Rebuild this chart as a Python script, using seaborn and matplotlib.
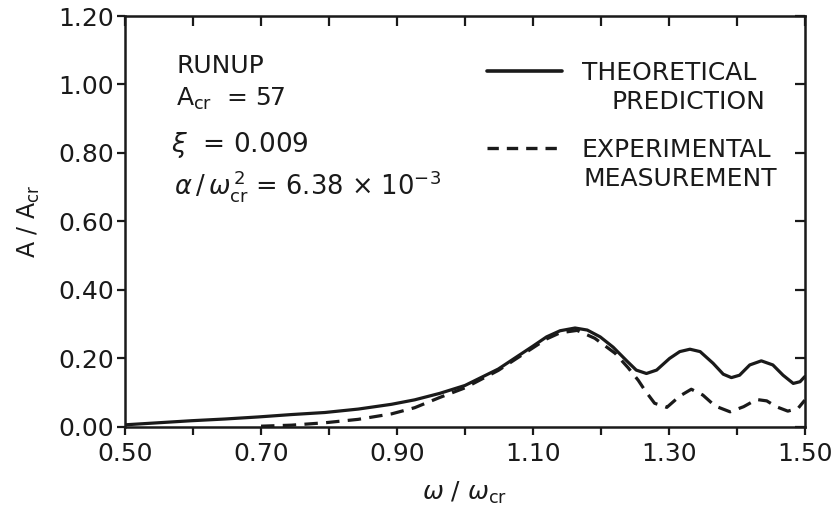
import numpy as np
import pandas as pd
import matplotlib
matplotlib.use("Agg")
import matplotlib.pyplot as plt
import seaborn as sns
from matplotlib.lines import Line2D

# ---- data ----
theo_x = [0.500, 0.549, 0.598, 0.647, 0.696, 0.745, 0.794, 0.843, 0.892, 0.926, 0.963,
          1.000, 1.049, 1.100, 1.120, 1.140, 1.162, 1.180, 1.199, 1.218, 1.238, 1.252,
          1.267, 1.282, 1.301, 1.316, 1.331, 1.346, 1.365, 1.380, 1.392, 1.404, 1.419,
          1.436, 1.453, 1.468, 1.483, 1.493, 1.500]
theo_y = [0.005, 0.011, 0.017, 0.022, 0.028, 0.035, 0.041, 0.051, 0.065, 0.078, 0.097,
          0.120, 0.168, 0.235, 0.262, 0.280, 0.288, 0.282, 0.262, 0.232, 0.192, 0.165,
          0.155, 0.165, 0.199, 0.219, 0.226, 0.219, 0.185, 0.153, 0.143, 0.150, 0.180,
          0.192, 0.180, 0.150, 0.126, 0.131, 0.146]
exp_x = [0.700, 0.745, 0.794, 0.843, 0.892, 0.926, 0.963, 1.000, 1.049, 1.100, 1.120,
         1.140, 1.165, 1.191, 1.221, 1.240, 1.255, 1.265, 1.279, 1.297, 1.316, 1.333,
         1.350, 1.368, 1.390, 1.410, 1.429, 1.444, 1.458, 1.475, 1.490, 1.500]
exp_y = [0.001, 0.004, 0.011, 0.021, 0.037, 0.055, 0.085, 0.113, 0.164, 0.230, 0.256,
         0.274, 0.281, 0.258, 0.214, 0.172, 0.135, 0.105, 0.068, 0.056, 0.089, 0.109,
         0.092, 0.060, 0.043, 0.058, 0.079, 0.075, 0.058, 0.045, 0.053, 0.077]
series_names = ["THEORETICAL", "EXPERIMENTAL"]
second_lines = ["PREDICTION", "MEASUREMENT"]
x_ticks = [0.50, 0.70, 0.90, 1.10, 1.30, 1.50]
y_ticks = [0.00, 0.20, 0.40, 0.60, 0.80, 1.00, 1.20]

df = pd.concat([
    pd.DataFrame({"x": theo_x, "y": theo_y, "series": series_names[0]}),
    pd.DataFrame({"x": exp_x, "y": exp_y, "series": series_names[1]}),
])

INK = "#1a1a1a"
DASH = (4.2, 2.6)

sns.set_style("ticks")
plt.rcParams["font.family"] = ["DejaVu Sans"]
plt.rcParams["mathtext.fontset"] = "dejavusans"

fig = plt.figure(figsize=(8.34, 5.17), dpi=100)
ax = fig.add_axes([0.150, 0.175, 0.815, 0.794])

sns.lineplot(data=df, x="x", y="y", hue="series", style="series",
             palette={series_names[0]: INK, series_names[1]: INK},
             dashes={series_names[0]: "", series_names[1]: DASH},
             linewidth=2.3, ax=ax, legend=False, sort=False)
for ln in ax.lines:
    ln.set_solid_joinstyle("round")
    ln.set_dash_joinstyle("round")

ax.set_xlim(0.5, 1.5)
ax.set_ylim(0.0, 1.2)
ax.set_xticks(x_ticks)
ax.set_xticklabels([f"{v:.2f}" for v in x_ticks])
ax.set_xticks(np.arange(0.6, 1.5, 0.2), minor=True)
ax.set_yticks(y_ticks)
ax.set_yticklabels([f"{v:.2f}" for v in y_ticks])
for s in ax.spines.values():
    s.set_linewidth(1.8)
    s.set_color(INK)
ax.tick_params(axis="both", which="both", direction="out", length=6, width=1.6,
               labelsize=18, colors=INK, pad=2)
ax.tick_params(axis="x", which="both", pad=5)

# top / right inward ticks
axt = ax.secondary_xaxis("top")
axt.set_xticks(np.arange(0.5, 1.51, 0.1))
axt.tick_params(direction="in", length=7, width=1.6, labeltop=False, colors=INK)
axr = ax.secondary_yaxis("right")
axr.set_yticks(y_ticks)
axr.tick_params(direction="in", length=7, width=1.6, labelright=False, colors=INK)

ax.set_xlabel(r"$\omega$ / $\omega_{\mathrm{cr}}$", fontsize=18, labelpad=10, color=INK)
ax.set_ylabel(r"A / A$_{\mathrm{cr}}$", fontsize=17, labelpad=12, color=INK)

ax.text(0.075, 0.878, "RUNUP", transform=ax.transAxes, fontsize=18, va="center", color=INK)
ax.text(0.075, 0.797, r"A$_{\mathrm{cr}}$  = 57", transform=ax.transAxes, fontsize=18,
        va="center", color=INK)
ax.text(0.068, 0.685, r"$\xi$  = 0.009", transform=ax.transAxes, fontsize=19, va="center",
        color=INK)
ax.text(0.072, 0.585, r"$\alpha\,/\,\omega_{\mathrm{cr}}^{\,2}$ = 6.38 $\times$ 10$^{-3}$",
        transform=ax.transAxes, fontsize=18.5, va="center", color=INK)

# legend
handles = [Line2D([], [], color=INK, lw=2.6),
           Line2D([], [], color=INK, lw=2.4, dashes=(3.4, 2.4))]
leg = ax.legend(handles, series_names, loc="upper left", bbox_to_anchor=(0.532, 0.89),
                frameon=False, fontsize=18, handlelength=3.0, handletextpad=0.8,
                labelspacing=2.1, borderpad=0, borderaxespad=0)
for t in leg.get_texts():
    t.set_color(INK)
ax.text(0.716, 0.790, second_lines[0], transform=ax.transAxes, fontsize=18,
        va="center", color=INK)
ax.text(0.674, 0.603, second_lines[1], transform=ax.transAxes, fontsize=18,
        va="center", color=INK)

fig.savefig("out.png", dpi=100, facecolor="white")
